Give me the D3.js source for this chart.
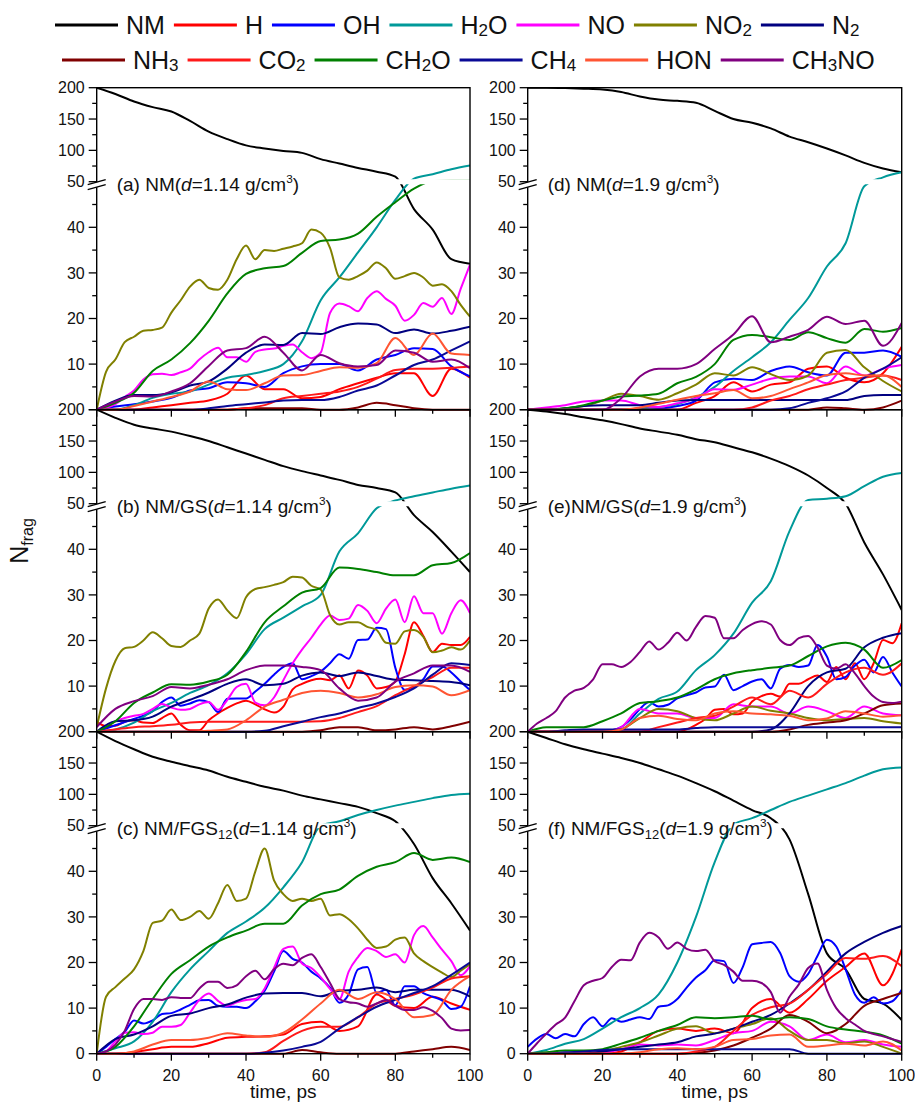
<!DOCTYPE html>
<html><head><meta charset="utf-8">
<script src="https://cdn.jsdelivr.net/npm/d3@7"></script>
<style>body{margin:0;background:#fff} text{font-family:"Liberation Sans",Arial,sans-serif;fill:#111}</style>
</head><body><svg id="c" width="915" height="1104"></svg>
<script>
const TIMES=[0,5,10,15,20,25,30,35,40,45,50,55,60,65,70,75,80,85,90,95,100];
const TIMES_FINE=[0,2.5,5,7.5,10,12.5,15,17.5,20,22.5,25,27.5,30,32.5,35,37.5,40,42.5,45,47.5,50,52.5,55,57.5,60,62.5,65,67.5,70,72.5,75,77.5,80,82.5,85,87.5,90,92.5,95,97.5,100];
const X_TICKS=[0,20,40,60,80,100];
const X_MINOR=[10,30,50,70,90];
const Y_LOW_TICKS=[0,10,20,30,40];
const Y_LOW_MINOR=[5,15,25,35,45];
const Y_UP_TICKS=[50,100,150,200];
const Y_UP_MINOR=[75,125,175];

// ---- panel (a) NM d=1.14
const a_NM=[200,190,178,169,162,147,130,118,108,103,99,96,86,79,72,66,58,44,39.5,33,32];
const a_H=[0,0,0,0.5,1,1.5,2,3.5,7.5,4.5,4.5,2.5,2.8,4.5,5.8,7,8,8,3,9,7];
const a_OH=[0,0.7,1.2,1.8,2.6,4.2,4.7,6,5.8,5,8,9.5,10,10,8.6,11,12,13.5,13.3,9.5,7.3];
const a_H2O=[0,0,1,2.6,3.5,4,5.5,7,7.6,8.5,10,15,24,29,34.5,40,46,55,62,70,76];
const a_NO=[0,0.4,1.2,2.8,4.2,6.6,7.8,7.9,7.6,8.2,9,11,12.6,13.6,11.5,11.5,10.5,12.7,13.2,13.4,14,14.3,12.6,11.3,12.5,21.2,23.3,22.7,21.6,24.5,26,24.3,22.8,19.5,20.8,23.4,22.6,24.5,21,26.5,31.8];
const a_NO2=[0,8.3,11,14.8,16,17.3,17.5,18,21.3,24,27,28.5,26.7,26.3,28.5,33,36,33,35,34.8,35.3,35.8,36.5,39.5,38.8,35.5,29,28.5,29.3,30.5,32.3,31,28.7,29.3,30,29,27.2,27.5,26,23,20.4];
const a_N2=[0,2,3.2,3.2,3.8,5.3,6.2,9,12.5,14.3,14.2,16.8,16.6,18.1,18.9,18.7,16.8,17.6,16.7,17.3,18.2];
const a_NH3=[0,0,0,0,0,0,0,0,0.3,0.3,0.3,0.3,0,0,0.5,1.5,1,0.3,0,0,0];
const a_CO2=[0,0,0,0,0,0,0,0,0.3,1,2.5,3,3.5,4,5,6.8,8.7,9,9,9.2,9.5];
const a_CH2O=[0,1.5,3.7,8.5,11,14.6,19.5,25.5,29.8,31,31.5,34.4,37,37.3,38.6,42.3,45.5,48.5,51,52,52];
const a_CH4=[0,0,0,0,0,0,0.3,0.8,1.2,1.6,2,2.1,2.1,2.8,4.2,5.3,7.5,9.8,11,13,15];
const a_HON=[0,0,0.8,1.8,2.8,4,6.2,4.5,4.3,5.8,7.5,7.6,8.5,9.3,9.2,10.2,15.7,12,16.7,12.3,12];
const a_CH3NO=[0,1.8,3,2.9,4,5.8,9.6,13,13.5,16,12.5,8.6,12,10.2,9.5,9.8,13,12.5,10.5,11,9.1];

// ---- panel (b) NM/GS d=1.14
const b_NM=[200,187,176,170,165,158,150,140,130,120,110,102,95,88,80,75,68,47.5,43.8,39.5,35];
const b_H=[2.2,1.2,1.3,2.2,2.5,2,1.9,3,4,1.5,0.3,0.3,2.5,4,5.2,6.2,6.8,6,4.9,4.2,5.5,9.3,10.5,11.3,11.6,11.3,12.4,9.5,13.4,12.3,9.5,9.8,11,17,24,21,17.5,19.3,19,19,20.8];
const b_OH=[0,0.7,1.4,2.1,2.8,3.5,4.5,6.5,7.5,5.7,6.2,6.9,6.5,4.3,7.2,7.3,7.3,8.8,10.5,12.5,14.2,15,11.5,12.2,13.2,15,17,16,20.1,20.2,22.8,22.5,14,9.2,9.7,11.5,14.3,14.3,13,11,9.1];
const b_H2O=[0,0.5,2,4.5,6.3,8.5,10.2,12.8,17,22.5,25,27.5,30,39.5,43.5,49,55,62,68,74,79];
const b_NO=[0,1.3,2.3,3,3.5,3.9,5,6.1,5.3,4.8,5,6,6.5,4.8,7,9.8,10.5,6.4,5.8,7.5,11.3,15,18,20.6,23.5,25.5,24.5,24.8,27.8,26.5,23.8,27,29,24,29.7,26,26,21.5,26,28.8,26];
const b_NO2=[1,9.5,15.5,18.3,18.6,20,21.8,20.5,18.8,18.6,20,21.5,27,29,26.6,24.9,29.5,31.3,31.7,32.2,32.8,34,33.8,32,31.2,25.6,23.5,24,24,23,22.3,19.5,19.3,22,22.3,20.8,17.4,17.8,18.5,18,20];
const b_N2=[0,2.3,2.5,3.3,5.5,7,8.6,10.5,11.5,10.2,10.5,12.3,13,12.2,13,12.2,11.4,11.3,11.1,10.9,10.2];
const b_NH3=[0,0,0,0,0,0,0,0,0,0,0,0,0.3,1,1,0.3,0.5,1,0.5,1.2,2.2];
const b_CO2=[0,0.5,1,1.2,1.5,2,2.2,2.2,2.2,2.2,2.2,2.2,2.3,3,4.3,5.6,8,10,12,14,14];
const b_CH2O=[0,2.3,6.3,8.6,10.4,10.3,11,12.5,17.5,24,27.5,30.5,31.5,36,35.7,35,34.3,34.3,36.5,37,39.2];
const b_CH4=[0,0,0,0,0,0,0,0,0,0.2,1.2,2.2,3.2,4,5.2,6.2,7.6,9.5,12.5,15,14.6];
const b_HON=[0,0,0,0,0,0,0.2,0.5,2.5,5.5,7,8.5,9,8.5,7.5,8.2,9.8,10.2,9.9,8,9.1];
const b_CH3NO=[1,5,6.7,7.8,9.8,9.5,10.3,11.5,13.5,14.5,14.5,14.2,13.5,9.5,6.8,7.5,11,12.8,14.5,14.5,13.1];

// ---- panel (c) NM/FGS12 d=1.14
const c_NM=[200,185,172,160,152,145,138,128,120,112,106,98,92,86,80,70,57,46,38.5,33,27];
const c_H=[0,0,0.3,1,1.5,1.5,2.3,3.5,3.7,3.8,4.2,6.5,7,5,6,13,10.5,10,12.5,11,9.6];
const c_OH=[0,1.5,3.2,4.8,7.3,6.6,7.3,8.7,8.9,9.7,10.7,11.7,11.8,10.5,10.3,10.3,10,11.5,13.8,18,22.5,20.8,20,18,16.5,14.5,11.2,13,18.5,19,13.3,14,10.6,14.8,14.8,13.3,12.5,11.7,9.8,10.3,14.8];
const c_H2O=[0,1.2,2.7,7,13.5,18.5,22.5,26.5,29,32,36.5,42,50,57,67,75,82,88,94,99,101];
const c_NO=[0,0.5,2.7,4.6,4.7,4.3,4.6,5.9,5.9,6.3,9,11.8,13.2,11.6,10.5,11.3,11.8,12,14.3,18.8,23,23.5,19.8,18.8,16.8,14.2,11.9,18,21.2,23.2,22.5,21.2,21.8,20,26,28,25.5,22.8,20.3,17.2,19.2];
const c_NO2=[0,12.5,14.6,16.5,18.5,22.5,28.7,29.2,31.6,29.3,30,31.3,29.6,33,37,33.5,34,40,45,38,35,33.5,34,33.5,34,30.3,30.6,29.5,27.5,25,23.2,23.5,25,25.5,22,20.3,19,17.8,16.8,18.2,19.6];
const c_N2=[0,3.2,4.2,6,8.3,8.8,10,10.8,12.3,13.2,13.3,13.3,12.6,13.8,14,14.5,13.5,14,14,14,12.5];
const c_NH3=[0,0,0,0,0,0,0,0,0,0,0,0.8,0.3,0,0,0,0,0.5,1,1.5,0.8];
const c_CO2=[0,0,0,0,0,0,0,0,0,0.3,2.8,5,5.9,5.9,8,11,12,13,14.5,16.5,17];
const c_CH2O=[0,1.5,6,12,17.5,20.5,23.5,25.5,27,28.5,28.5,32.5,35,36,39,41,42,44,42.5,43,42];
const c_CH4=[0,0,0,0,0,0,0,0,0,0.2,0.7,1.5,2.6,5.5,8,10.3,11.8,13.3,14.8,17.3,20];
const c_HON=[0,0,0.5,2,3,3,3.5,4.5,4,3.7,4.6,7.5,11,14,12,13.5,12,8,8.5,14,17];
const c_CH3NO=[0,0.5,2,5,9.8,12,12,11.8,12.4,12.2,12.2,14.3,15.8,15.8,14.4,15,17,18.2,16.3,18.5,19.7,19.4,21,21.8,19,15.5,12,11.3,11,10.3,11,11.8,10.5,9.6,9.6,10.2,9.4,7.8,5.5,5.1,5.2];

// ---- panel (d) NM d=1.9
const d_NM=[200,200,199.5,198.5,197,193,186,181,179,176,163,150,144,135,122,113,103,92,80,71,65];
const d_H=[0,0,0,0,0,0,0,0,0,1.5,3,6,4,5.5,6,9,9.5,7,6,8,13.8];
const d_OH=[0,0,0,0,0,0,0,0.2,0.8,2,6,6.8,6.5,8.5,9.5,8.2,7.5,12.5,12.5,13,11.6];
const d_H2O=[0,0,0,0,0,0,0.3,0.6,1.2,2.7,5,8.5,11.5,14.8,19.7,24.5,31.4,36.5,49,57,65];
const d_NO=[0,0.5,1,1.8,2,2,1,0.6,1.4,2.5,4.5,4.4,5.5,6.8,7.3,7.3,5.8,9.5,7.5,9,9.8];
const d_NO2=[0,0,0.3,0.8,2,3.5,3,2.2,3.6,5.5,8,7.5,9.3,7.8,6.5,7.5,12.5,13.1,9.3,6.3,4];
const d_N2=[0,0,0.3,0.8,1,1,1,1.5,2,2.1,2.1,2.1,2.1,2.1,2.1,2.1,2.1,2.1,3,3.2,3.2];
const d_NH3=[0,0,0,0,0,0,0,0,0,0,0,0,0,0,0,0,0.5,0.3,0,0.5,2];
const d_CO2=[0,0,0,0,0,0,0,0,0,0,0,0,0.5,2,3,4.5,5.5,6.5,7,7.5,6.5];
const d_CH2O=[0,0,0.3,1,2,2.9,3.1,3.5,5.8,7.2,10,15.3,16.4,15.9,15.3,17,15.7,14.7,17.7,17.1,17.9];
const d_CH4=[0,0,0,0,0,0,0,0,0,0,0,0,0,0,0.3,1.5,2.5,4,7,9,11.5];
const d_HON=[0,0,0,0,0,0,0.5,1.3,2.2,3,3.6,4.3,2.5,3,4.5,6,7.6,8,7.5,7.5,5];
const d_CH3NO=[0,0,0,0,0,2.5,7.3,9,9,10,13.3,16.5,20.5,14.8,16,17.5,20.4,18.8,19.5,14,19];

// ---- panel (e) NM/GS d=1.9
const e_NM=[200,197,193,188,183,177,170,165,160,153,148,140,132,122,110,95,75,50,41.5,34.5,26.7];
const e_H=[0,0,0,0,0,0,0,0,0,0,0,0,0,0,0,0,0,0.5,1.5,2.8,4.8,5,3.8,4,6.6,7.8,8.3,7.7,10.5,10.5,11.5,12.3,10.9,14.2,11.5,15,11.5,15,20.1,19.4,23.8];
const e_OH=[0,0,0,0,0,0,0,0,0,0.3,1,2.7,5,6.5,5.5,5.9,7.3,8,8.6,9.7,9.9,12.5,9.1,10,11,11.5,9.5,13.8,14.6,14.2,14.5,19,16.5,11.5,12,14.5,15.8,13,16.4,13,9.9];
const e_H2O=[0,0,0,0.2,0.3,0.5,4,7.2,8.8,13.5,16.8,21.5,28.3,33,44,56,58,62,78,93,99];
const e_NO=[0,0,0,0,0,1,5,4,4,3,3,6,5.5,5.5,4,5.5,4.5,3,5.5,4,3.6];
const e_NO2=[0,0,0,0,0,0.5,3,5,4.5,3,2.5,4,5.5,4.6,4,3,2.5,2.8,3,2.3,1.8];
const e_N2=[0,0,0,0,0,0,0,0,0,0,0,0,0,0.5,4,10,13,13.8,18.5,20.6,21.6];
const e_NH3=[0,0,0,0,0,0,0,0,0,0,0,0,0,0,0.5,1.5,2,2.5,4,5.8,6.2];
const e_CO2=[0,0,0,0,0,0,0,1,2,3,3.5,5.5,7.5,6,9,7.5,10.5,13,14,12.5,15];
const e_CH2O=[0,1,1,1,2.3,4,6.3,6.7,7.5,9.3,11.5,12.8,13.5,14,14.5,16.6,18.7,19.5,18,14,15.7];
const e_CH4=[0,0,0.3,0.5,0.5,0.5,0.5,0.5,0.5,0.8,1,1,1,1,1,1,1,1,1,1,1];
const e_HON=[0,0,0,0,0,0.5,3,3.5,2.8,2.5,4,4.5,4,3.8,3.5,2.5,2.9,4.5,4,3.3,3.6];
const e_CH3NO=[0,1.8,3,4.5,7.5,9,9.6,11.5,14.8,14.8,14.2,15.3,17.5,19.8,18,19.5,21.7,20,23,25.4,25,20.5,20.5,22.3,23.6,24.2,23.5,20.1,19,20.5,21,18.5,14.5,13.8,14.8,12.8,10,7.7,6.5,6.3,6.6];

// ---- panel (f) NM/FGS12 d=1.9
const f_NM=[200,190,180,172,165,158,150,140,130,118,105,90,75,62,47,35,22,18.5,12,11,7.4];
const f_H=[0,0,0,0,0,0.5,2.5,5,5.5,5,5.5,4.5,10,12,9,12,16,19,22,15,22.9];
const f_OH=[1.5,3.3,4.3,3.4,4.3,3.8,6.5,8,6,7.8,7,7.5,8,7.6,10.3,10.6,12,14.5,16.7,18.3,20.5,20.3,15.5,19,24,24.3,24.5,22.1,17,15.8,17.5,21.5,25,23.5,18.5,13,11.2,12.4,11,11.5,14];
const f_H2O=[0,0.8,2.2,3.2,5.5,8,10,13,20,30,42,52,62,75,88,98,108,118,130,140,143];
const f_NO=[0,0,0,0.3,0.3,1,2,1.8,2,1.8,3,4.5,5,7,6,3,4.2,2.5,3,2,1.5];
const f_NO2=[0,0,0,0,0.5,1.5,2.5,4,5.5,6,4.5,5.5,6.5,7.8,5,3,3,2.3,2.7,1.5,0];
const f_N2=[0,0,0,0,0.5,1,1.5,2,2.5,3.8,4.4,5.5,7,8.5,11,14,18,22,24.5,26.5,28];
const f_NH3=[0,0,0,0,0,0,0,0,0,0.2,0.7,1.8,3.5,5.5,8.5,7,4.5,6.5,10.5,12,13.3];
const f_CO2=[0,0,0,0,0,0,0,0,0,0.5,1.5,5,8.5,10.2,11,14,17.5,21,20.8,21.4,19.2];
const f_CH2O=[0,0.3,0.7,0.7,1,2.2,3.5,5,6.3,8,7.8,8,8.3,7.5,8,7.6,6,5.3,4.8,4,2.2];
const f_CH4=[0,0,0.3,0.5,0.8,1,1,1,1,1,1,1,1,1,1,0,0,0,0,0,0];
const f_HON=[0,0,0,0,0,0,0.3,1,1.2,1,1.5,3,3.2,4,4.2,1.5,1.8,2.2,1.8,2.7,0.7];
const f_CH3NO=[0,2.3,4.4,6.4,7.9,11.5,15,16,16.6,19,20.6,20.5,24.4,26.5,25.5,23,24.4,23,22.5,22.8,20.3,19.5,18,16,16,15.5,13.5,9,12.5,15.2,18.8,19.8,14,10,7.8,6.4,5,4.3,3.8,3.2,2.6];

const SERIES_KEYS=["NM","H","OH","H2O","NO","NO2","N2","NH3","CO2","CH2O","CH4","HON","CH3NO"];
const SERIES_COLORS=["#000000","#ff0000","#0000ff","#009999","#ff00ff","#808000","#000080","#800000","#ff1a1a","#008000","#0a0a96","#ff5533","#800080"];
const SERIES_LABELS=[[["NM",""]],[["H",""]],[["OH",""]],[["H",""],["2","sub"],["O",""]],[["NO",""]],[["NO",""],["2","sub"]],[["N",""],["2","sub"]],
 [["NH",""],["3","sub"]],[["CO",""],["2","sub"]],[["CH",""],["2","sub"],["O",""]],[["CH",""],["4","sub"]],[["HON",""]],[["CH",""],["3","sub"],["NO",""]]];
const LEGEND_ROWS=[[0,1,2,3,4,5,6],[7,8,9,10,11,12]];

const PANEL_DATA={
 a:[a_NM,a_H,a_OH,a_H2O,a_NO,a_NO2,a_N2,a_NH3,a_CO2,a_CH2O,a_CH4,a_HON,a_CH3NO],
 b:[b_NM,b_H,b_OH,b_H2O,b_NO,b_NO2,b_N2,b_NH3,b_CO2,b_CH2O,b_CH4,b_HON,b_CH3NO],
 c:[c_NM,c_H,c_OH,c_H2O,c_NO,c_NO2,c_N2,c_NH3,c_CO2,c_CH2O,c_CH4,c_HON,c_CH3NO],
 d:[d_NM,d_H,d_OH,d_H2O,d_NO,d_NO2,d_N2,d_NH3,d_CO2,d_CH2O,d_CH4,d_HON,d_CH3NO],
 e:[e_NM,e_H,e_OH,e_H2O,e_NO,e_NO2,e_N2,e_NH3,e_CO2,e_CH2O,e_CH4,e_HON,e_CH3NO],
 f:[f_NM,f_H,f_OH,f_H2O,f_NO,f_NO2,f_N2,f_NH3,f_CO2,f_CH2O,f_CH4,f_HON,f_CH3NO]
};
const PANEL_LABELS={
 a:[["(a) NM(",""],["d","i"],["=1.14 g/cm",""],["3","sup"],[")",""]],
 b:[["(b) NM/GS(",""],["d","i"],["=1.14 g/cm",""],["3","sup"],[")",""]],
 c:[["(c) NM/FGS",""],["12","sub"],["(",""],["d","i"],["=1.14 g/cm",""],["3","sup"],[")",""]],
 d:[["(d) NM(",""],["d","i"],["=1.9 g/cm",""],["3","sup"],[")",""]],
 e:[["(e)NM/GS(",""],["d","i"],["=1.9 g/cm",""],["3","sup"],[")",""]],
 f:[["(f) NM/FGS",""],["12","sub"],["(",""],["d","i"],["=1.9 g/cm",""],["3","sup"],[")",""]]
};
const PANEL_ORDER=[["a",0,0],["b",0,1],["c",0,2],["d",1,0],["e",1,1],["f",1,2]];

// ---------- layout
const COL_X=[[96.7,470],[527.7,901.7]];
const TOP0=87.7, PH=322, UPPER_H=94;

const svg=d3.select("#c");

function rich(sel,parts,size,subDy,supDy){
  let shift=0;
  parts.forEach(([t,k])=>{
    const ts=sel.append("tspan").text(t);
    let target=0;
    if(k==="sub"){ts.attr("font-size",size*0.68);target=subDy;}
    else if(k==="sup"){ts.attr("font-size",size*0.62);target=supDy;}
    if(k==="i") ts.attr("font-style","italic");
    if(target!==shift){ts.attr("dy",target-shift);shift=target;}
  });
}

// legend
const LEG_Y=[25,60];
const LEG_X0=[55,62];
LEGEND_ROWS.forEach((row,ri)=>{
  let x=LEG_X0[ri];
  const y=LEG_Y[ri];
  row.forEach(si=>{
    svg.append("line").attr("x1",x).attr("x2",x+63).attr("y1",y).attr("y2",y)
      .attr("stroke",SERIES_COLORS[si]).attr("stroke-width",3);
    x+=71;
    const t=svg.append("text").attr("x",x).attr("y",y+9).attr("font-size",25);
    rich(t,SERIES_LABELS[si],25,2,-8);
    x+=t.node().getComputedTextLength()+9;
  });
});

const line=d3.line().curve(d3.curveMonotoneX);

PANEL_ORDER.forEach(([id,col,row])=>{
  const [x0,x1]=COL_X[col];
  const top=TOP0+row*PH, bot=top+PH, y50=top+UPPER_H;
  const x=d3.scaleLinear().domain([0,100]).range([x0,x1]);
  const y=d3.scaleLinear().domain([0,50,200]).range([bot,y50,top]);
  const g=svg.append("g");

  const cu="clipU_"+id, cl="clipL_"+id;
  const defs=svg.append("defs");
  defs.append("clipPath").attr("id",cu).append("rect").attr("x",x0).attr("y",top).attr("width",x1-x0).attr("height",UPPER_H-2.5);
  defs.append("clipPath").attr("id",cl).append("rect").attr("x",x0).attr("y",y50+2.5).attr("width",x1-x0).attr("height",bot-y50-2.5+1.5);

  const series=PANEL_DATA[id];
  [cl,cu].forEach(cid=>{
    const lg=g.append("g").attr("clip-path",`url(#${cid})`);
    series.forEach((vals,si)=>{
      const ts=vals.length===TIMES_FINE.length?TIMES_FINE:TIMES;
      lg.append("path")
        .attr("d",line(vals.map((v,i)=>[x(ts[i]),y(v)])))
        .attr("fill","none").attr("stroke",SERIES_COLORS[si]).attr("stroke-width",2)
        .attr("stroke-linejoin","round");
    });
  });

  g.append("rect").attr("x",x0).attr("y",top).attr("width",x1-x0).attr("height",PH)
    .attr("fill","none").attr("stroke","#000").attr("stroke-width",1.4);

  const lowT=Y_LOW_TICKS.filter(v=>row===2||v!==0);
  Y_LOW_TICKS.concat(Y_UP_TICKS).forEach(v=>{
    g.append("line").attr("x1",x0-8).attr("x2",x0).attr("y1",y(v)).attr("y2",y(v)).attr("stroke","#000").attr("stroke-width",1.3);
  });
  Y_LOW_MINOR.concat(Y_UP_MINOR).forEach(v=>{
    g.append("line").attr("x1",x0-4.5).attr("x2",x0).attr("y1",y(v)).attr("y2",y(v)).attr("stroke","#000").attr("stroke-width",1.3);
  });
  lowT.concat(Y_UP_TICKS).forEach(v=>{
    g.append("text").attr("x",x0-12).attr("y",y(v)).attr("dy","0.36em").attr("text-anchor","end")
      .attr("font-size",16).text(v);
  });

  g.append("rect").attr("x",x0-3).attr("y",y50+0.5).attr("width",6).attr("height",5).attr("fill","#fff");
  [0,5].forEach(o=>{
    g.append("line").attr("x1",x0-9).attr("x2",x0+9).attr("y1",y50+o+3).attr("y2",y50+o-2)
      .attr("stroke","#000").attr("stroke-width",1.3);
  });

  X_TICKS.forEach(v=>{
    g.append("line").attr("x1",x(v)).attr("x2",x(v)).attr("y1",bot).attr("y2",bot+7).attr("stroke","#000").attr("stroke-width",1.3);
  });
  X_MINOR.forEach(v=>{
    g.append("line").attr("x1",x(v)).attr("x2",x(v)).attr("y1",bot).attr("y2",bot+4).attr("stroke","#000").attr("stroke-width",1.3);
  });
  if(row===2){
    X_TICKS.forEach(v=>{
      g.append("text").attr("x",x(v)).attr("y",bot+27).attr("text-anchor","middle").attr("font-size",16).text(v);
    });
    g.append("text").attr("x",(x0+x1)/2).attr("y",bot+44).attr("text-anchor","middle").attr("font-size",19).text("time, ps");
  }

  const lt=g.append("text").attr("x",x0+20).attr("y",y50+9).attr("font-size",19);
  rich(lt,PANEL_LABELS[id],19,4,-8);
});

const yt=svg.append("text").attr("transform","translate(28,541) rotate(-90)").attr("text-anchor","middle").attr("font-size",25);
yt.append("tspan").text("N");
yt.append("tspan").text("frag").attr("font-size",16).attr("dy",5);
</script></body></html>
